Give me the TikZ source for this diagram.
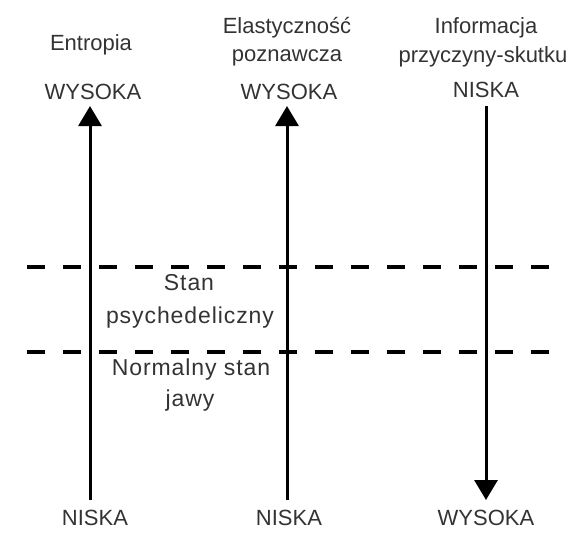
\documentclass[tikz,border=0pt]{standalone}
\usepackage{fontspec}
\setmainfont{Liberation Sans}
\usetikzlibrary{arrows.meta}
\begin{document}
\begin{tikzpicture}[x=1pt,y=-1pt,
  lbl/.style={inner sep=0pt,anchor=base,text=black!80,font=\fontsize{22}{28}\selectfont},
  statelbl/.style={lbl,font=\fontsize{23}{28}\selectfont\addfontfeatures{LetterSpace=4}},
  axis/.style={line width=3pt,-{Triangle[width=23pt,length=20pt]}},
  level/.style={line width=4pt,dash pattern=on 18pt off 18pt}]
  \useasboundingbox (0,0) rectangle (566,542);

  % column headings
  \node[lbl] (hA) at (91,50) {Entropia};
  \node[lbl] (hB1) at (287,33) {Elastyczność};
  \node[lbl] (hB2) at (287,61) {poznawcza};
  \node[lbl] (hC1) at (486,33) {Informacja};
  \node[lbl] (hC2) at (483,62) {przyczyny-skutku};

  % top values
  \node[lbl] (tA) at (93,99) {WYSOKA};
  \node[lbl] (tB) at (289,99) {WYSOKA};
  \node[lbl] (tC) at (486,97) {NISKA};

  % bottom values
  \node[lbl] (bA) at (95,525) {NISKA};
  \node[lbl] (bB) at (289,525) {NISKA};
  \node[lbl] (bC) at (486,525) {WYSOKA};

  % axis end points
  \coordinate (aTop) at (90,106);
  \coordinate (aBot) at (90,500);
  \coordinate (bTop) at (287,106);
  \coordinate (bBot) at (287,500);
  \coordinate (cTop) at (486,106);
  \coordinate (cBot) at (486,500);

  % state boundaries
  \coordinate (u1) at (27,267);
  \coordinate (u2) at (549,267);
  \coordinate (l1) at (27,352);
  \coordinate (l2) at (549,352);
  \draw[level] (u1) -- (u2);
  \draw[level] (l1) -- (l2);

  % axes
  \draw[axis] (aBot) -- (aTop);
  \draw[axis] (bBot) -- (bTop);
  \draw[axis] (cTop) -- (cBot);

  % state labels
  \node[statelbl] (s1) at (189,290) {Stan};
  \node[statelbl] (s2) at (190,323) {psychedeliczny};
  \node[statelbl] (n1) at (191,375) {Normalny stan};
  \node[statelbl] (n2) at (190,406) {jawy};
\end{tikzpicture}
\end{document}
